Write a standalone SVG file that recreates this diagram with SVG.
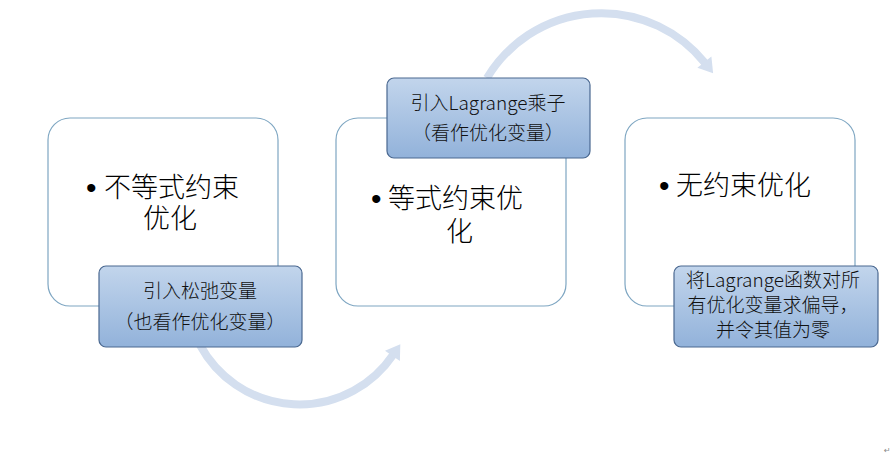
<svg xmlns="http://www.w3.org/2000/svg" width="891" height="455" viewBox="0 0 891 455">
<style>
.big{fill:#ffffff;stroke:#7EA6C2;stroke-width:1.2}
.small{fill:url(#g);stroke:#4A6890;stroke-width:1.2}
.bt{font-family:"Liberation Sans","Noto Sans CJK SC",sans-serif;font-size:27px;font-weight:300;fill:#000}
.bl{font-family:"Liberation Sans",sans-serif;font-size:30px;fill:#000}
.st{font-family:"Noto Sans CJK SC","Noto Sans",sans-serif;font-size:19px;font-weight:300;fill:#111;text-anchor:middle}
.arc{fill:none;stroke:#D4DFEF;stroke-width:8;marker-end:url(#ah)}
</style>
<defs>
<linearGradient id="g" x1="0" y1="0" x2="0" y2="1">
<stop offset="0" stop-color="#C2D5EC"/>
<stop offset="1" stop-color="#92B2DA"/>
</linearGradient>
<marker id="ah" markerUnits="userSpaceOnUse" markerWidth="30" markerHeight="30" refX="0" refY="0" viewBox="-2 -15 30 30" orient="auto" overflow="visible">
<path d="M-1,-9 L13,0 L-1,9 z" fill="#D4DFEF"/>
</marker>
</defs>
<g id="connectors">
<path class="arc" d="M 200 345 A 113 113 0 0 0 393 355"/>
<path class="arc" d="M 487 78 A 133 133 0 0 1 705 63"/>
</g>
<g id="node1">
<rect class="big" x="48" y="118" width="230" height="188" rx="22"/>
<text class="bl" x="86" y="198">•</text>
<text class="bt"><tspan x="104" y="197">不等式约束</tspan><tspan x="143" y="228">优化</tspan></text>
</g>
<g id="node2">
<rect class="big" x="336" y="118" width="230" height="188" rx="22"/>
<text class="bl" x="371" y="209">•</text>
<text class="bt"><tspan x="388" y="208">等式约束优</tspan><tspan x="446" y="241">化</tspan></text>
</g>
<g id="node3">
<rect class="big" x="625" y="118" width="230" height="188" rx="22"/>
<text class="bl" x="659" y="196">•</text>
<text class="bt" x="676" y="195">无约束优化</text>
</g>
<g id="label1">
<rect class="small" x="99" y="266" width="203" height="81" rx="7"/>
<text class="st"><tspan x="200" y="298">引入松弛变量</tspan><tspan x="200" y="329">（也看作优化变量）</tspan></text>
</g>
<g id="label2">
<rect class="small" x="387" y="78" width="203" height="80" rx="7"/>
<text class="st"><tspan x="488" y="110">引入Lagrange乘子</tspan><tspan x="488" y="140">（看作优化变量）</tspan></text>
</g>
<g id="label3">
<rect class="small" x="674" y="266" width="204" height="81" rx="7"/>
<text class="st"><tspan x="773" y="287">将Lagrange函数对所</tspan><tspan x="773" y="312">有优化变量求偏导，</tspan><tspan x="773" y="337">并令其值为零</tspan></text>
</g>
<text x="884" y="453" font-family="DejaVu Sans,sans-serif" font-size="8" fill="#888">↵</text>
</svg>
